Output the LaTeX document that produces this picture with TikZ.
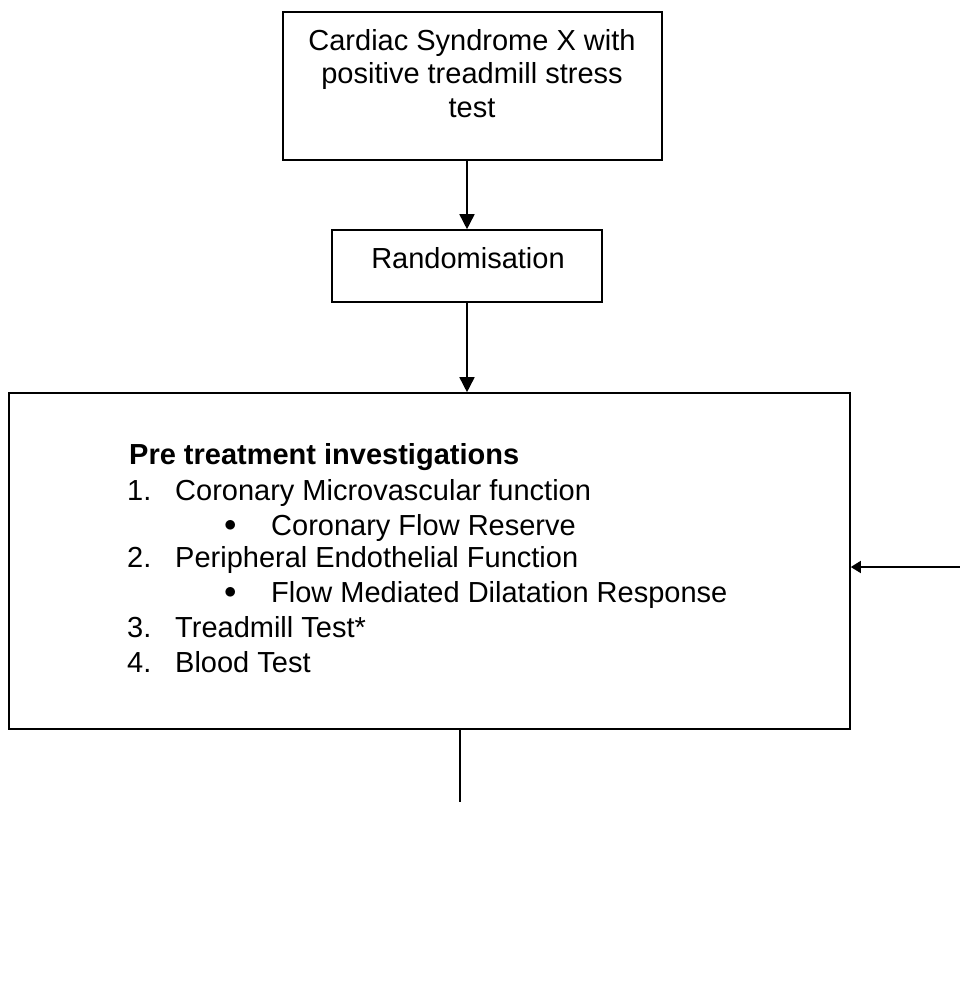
\documentclass[tikz,border=0pt]{standalone}
\usepackage{fontspec}
\setmainfont{Liberation Sans}
\usetikzlibrary{arrows.meta}
\begin{document}
\begin{tikzpicture}[x=1pt,y=-1pt,
  box/.style={draw,line width=1.6pt,inner sep=0pt},
  txt/.style={inner sep=0pt,font=\fontsize{29}{33.5}\selectfont},
  arr/.style={line width=1.6pt,-{Triangle[length=15pt,width=15pt]}},
  sarr/.style={line width=1.6pt,-{Triangle[length=10pt,width=12pt]}}]
\useasboundingbox (0,0) rectangle (960,993);
% top box
\node[box,minimum width=379pt,minimum height=148pt] (top) at (472.5,86) {};
\node[txt,align=center,anchor=base] (toptxt) at (472,117) {Cardiac Syndrome X with\\positive treadmill stress\\test};
% randomisation
\node[box,minimum width=270pt,minimum height=72pt] (rand) at (467,266) {};
\node[txt,anchor=base] (randtxt) at (468,268) {Randomisation};
% big box
\node[box,minimum width=841pt,minimum height=336pt] (big) at (429.5,561) {};
\node[txt,anchor=base west,font=\fontsize{29}{33.5}\selectfont\bfseries] (h) at (129,464) {Pre treatment investigations};
\node[txt,anchor=base west] (n1) at (127,500) {1.};
\node[txt,anchor=base west] (t1) at (175,500) {Coronary Microvascular function};
\node[txt,anchor=base west] (b1) at (224,531) {$\bullet$};
\node[txt,anchor=base west] (s1) at (271,535) {Coronary Flow Reserve};
\node[txt,anchor=base west] (n2) at (127,567) {2.};
\node[txt,anchor=base west] (t2) at (175,567) {Peripheral Endothelial Function};
\node[txt,anchor=base west] (b2) at (224,598) {$\bullet$};
\node[txt,anchor=base west] (s2) at (271,602) {Flow Mediated Dilatation Response};
\node[txt,anchor=base west] (n3) at (127,637) {3.};
\node[txt,anchor=base west] (t3) at (175,637) {Treadmill Test*};
\node[txt,anchor=base west] (n4) at (127,672) {4.};
\node[txt,anchor=base west] (t4) at (175,672) {Blood Test};
% connectors
\draw[arr] (rand.north |- top.south) -- (rand.north);
\draw[arr] (rand.south) -- (rand.south |- big.north);
\coordinate (rin) at (960,567);
\draw[sarr] (rin) -- (rin -| big.east);
\coordinate (bend) at (460,802);
\draw[line width=1.6pt] (bend |- big.south) -- (bend);
\end{tikzpicture}
\end{document}
